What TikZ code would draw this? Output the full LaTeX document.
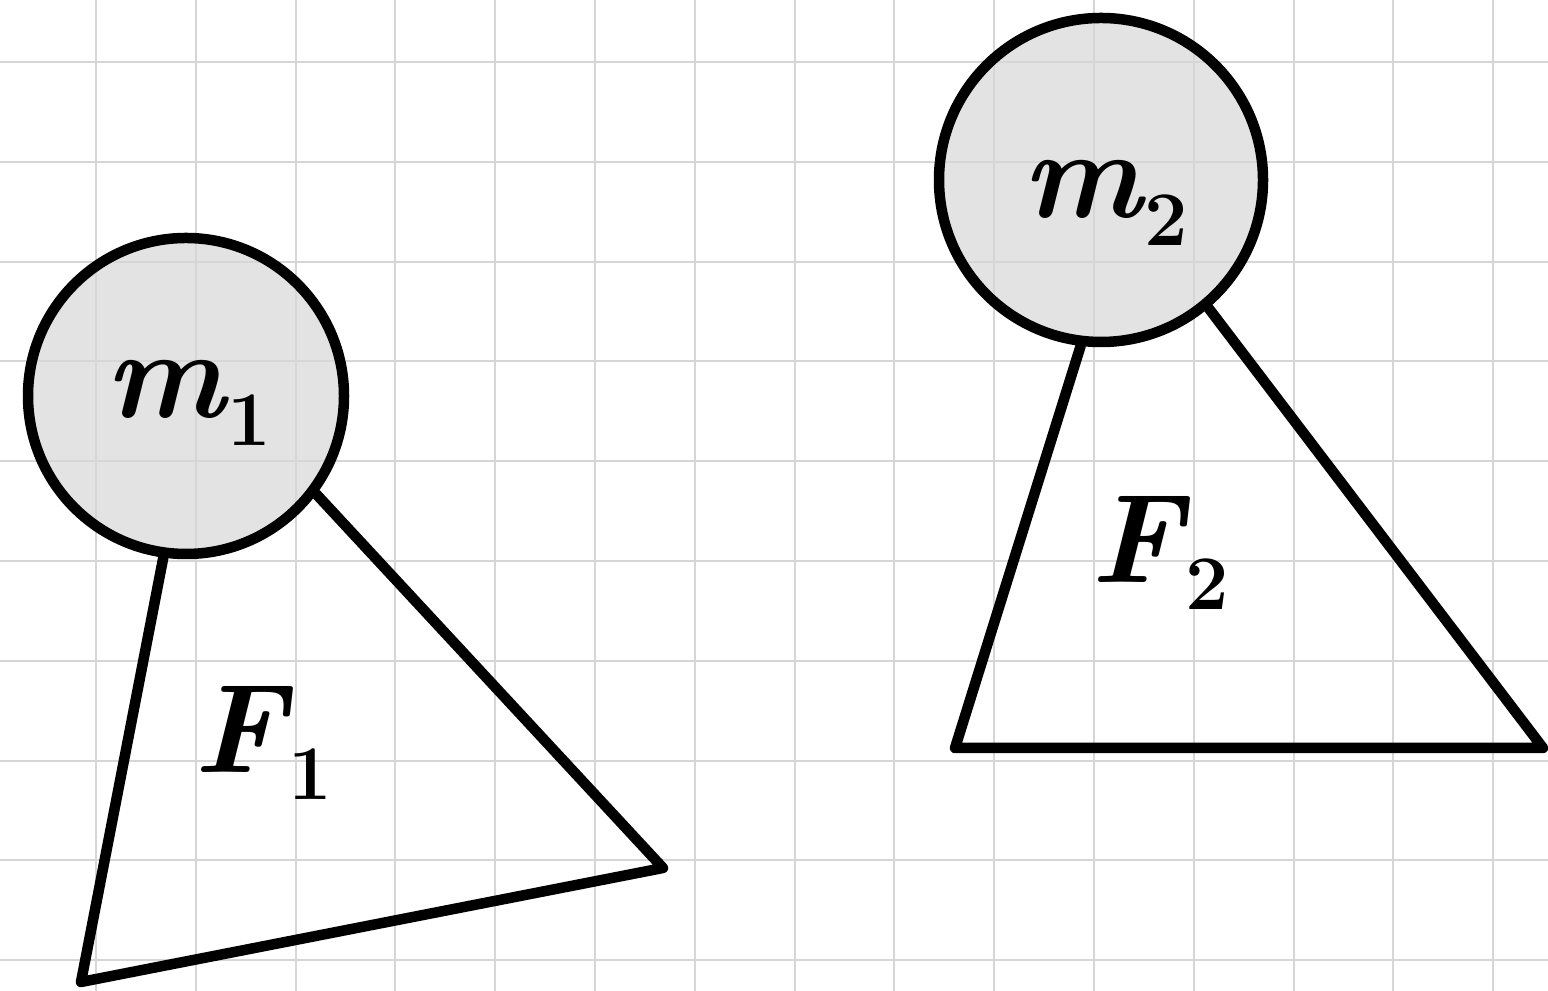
\documentclass[tikz,border=0pt]{standalone}
\usepackage{fontspec}
\definecolor{gridc}{HTML}{D6D6D6}
\definecolor{ballc}{HTML}{E3E3E3}
\newcommand{\mysub}[2]{{\itshape #1}\kern0.02em\raisebox{-0.22em}{\fontsize{22}{26}\selectfont #2}}
\tikzset{
  gridline/.style={draw=gridc, line width=0.02cm},
  ballfill/.style={circle, fill=ballc, inner sep=0pt},
  ballline/.style={circle, draw=black, line width=0.105cm, inner sep=0pt},
  edge/.style={draw=black, line width=0.105cm, line cap=round, line join=round},
  lbl/.style={font=\fontsize{36}{42}\selectfont\bfseries, inner sep=0pt}
}
\begin{document}
\begin{tikzpicture}
\useasboundingbox (0,0) rectangle (15.48,9.91);
\fill[white] (0,0) rectangle (15.48,9.91);
% circle fills (under the grid)
\node[ballfill, minimum size=3.16cm] at (1.86,5.95) {};
\node[ballfill, minimum size=3.24cm] at (11.01,8.11) {};
% grid
\foreach \k in {0,...,14} {
  \draw[gridline] ({0.96+0.998*\k},0) -- ({0.96+0.998*\k},9.91);
}
\foreach \k in {0,...,9} {
  \draw[gridline] (0,{9.29-0.998*\k}) -- (15.48,{9.29-0.998*\k});
}
% circles
\node[ballline, minimum size=3.16cm] (m1) at (1.86,5.95) {};
\node[ballline, minimum size=3.24cm] (m2) at (11.01,8.11) {};
% triangle 1
\coordinate (b1) at (0.81,0.09);
\coordinate (c1) at (6.63,1.23);
\draw[edge] (m1.262.7) -- (b1) -- (c1) -- (m1.-37);
% triangle 2
\coordinate (b2) at (9.55,2.43);
\coordinate (c2) at (15.43,2.43);
\draw[edge] (m2.-97) -- (b2) -- (c2) -- (m2.-50);
% labels
\node[lbl] (t1) at (1.88,5.88) {\mysub{m}{1}};
\node[lbl] (t2) at (11.05,7.88) {\mysub{m}{2}};
\node[lbl] (f1) at (2.63,2.48) {\mysub{F}{1}};
\node[lbl] (f2) at (11.60,4.38) {\mysub{F}{2}};
\end{tikzpicture}
\end{document}
